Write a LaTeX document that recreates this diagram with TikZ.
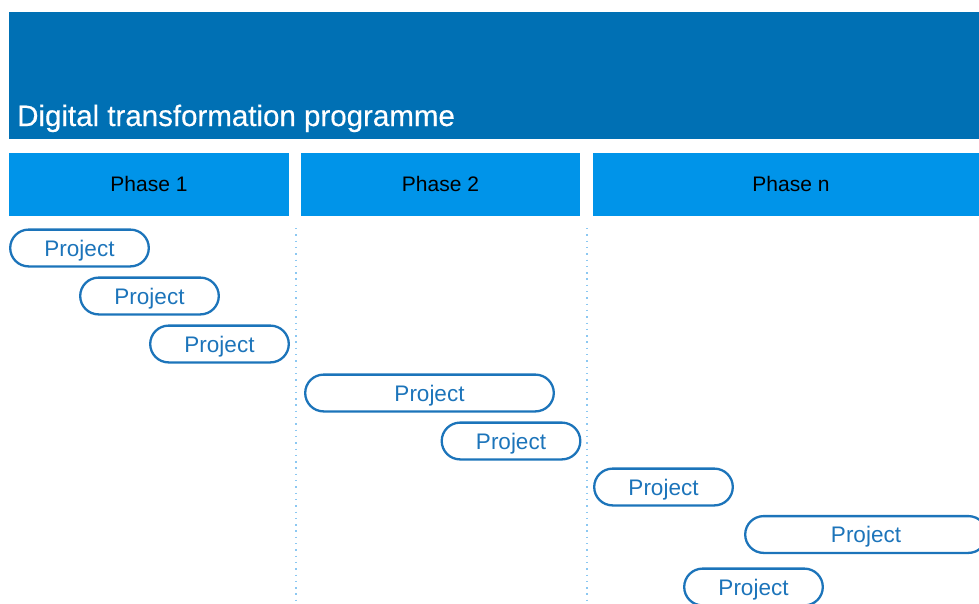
\documentclass[tikz,border=0pt]{standalone}
\usepackage{fontspec}
\setmainfont{Liberation Sans}
\newfontfamily\titlefont[FakeBold=0.4]{Liberation Sans}
\definecolor{titleblue}{HTML}{0070B4}
\definecolor{phaseblue}{HTML}{0094E9}
\definecolor{projblue}{HTML}{1C74BA}
\definecolor{sepblue}{HTML}{8CC8F2}
\tikzset{
  phasebox/.style={fill=phaseblue, minimum height=63pt, inner sep=0pt, font=\fontsize{21}{24}\selectfont},
  project/.style={draw=projblue, line width=2.3pt, rounded corners=18.4pt, minimum height=36.8pt,
    minimum width=138.6pt, inner sep=0pt, text height=16pt, text depth=0pt, text=projblue,
    font=\fontsize{22.5}{24}\selectfont},
  separator/.style={sepblue, line width=1.4pt, dash pattern=on 1.4pt off 4.9pt}
}
\begin{document}
\begin{tikzpicture}[x=1pt,y=-1pt]
    \useasboundingbox (0,0) rectangle (979,603);
    \clip (0,0) rectangle (979,603);
    \fill[titleblue] (9,12) rectangle (990,139);
    \node[anchor=base west, inner sep=0pt, text=white, font=\titlefont\fontsize{29.5}{32}\selectfont] (title) at (17,126) {Digital transformation programme};
    \node[phasebox, minimum width=280pt] (ph1) at (149,184) {Phase 1};
    \node[phasebox, minimum width=279pt] (ph2) at (440.5,184) {Phase 2};
    \node[phasebox, minimum width=396pt] (phn) at (791,184) {Phase n};
    \coordinate (s1) at (296,228);
    \coordinate (s2) at (587,228);
    \draw[separator] (s1) -- (s1 |- 0,603);
    \draw[separator] (s2) -- (s2 |- 0,603);
    \node[project] (p1) at (79.5,248) {Project};
    \node[project] (p2) at (149.5,296) {Project};
    \node[project] (p3) at (219.5,344) {Project};
    \node[project, minimum width=248.6pt] (p4) at (429.5,393) {Project};
    \node[project] (p5) at (511,441) {Project};
    \node[project] (p6) at (663.5,487) {Project};
    \node[project, minimum width=241.6pt] (p7) at (866,534.5) {Project};
    \node[project] (p8) at (753.5,587) {Project};
  \end{tikzpicture}
\end{document}
